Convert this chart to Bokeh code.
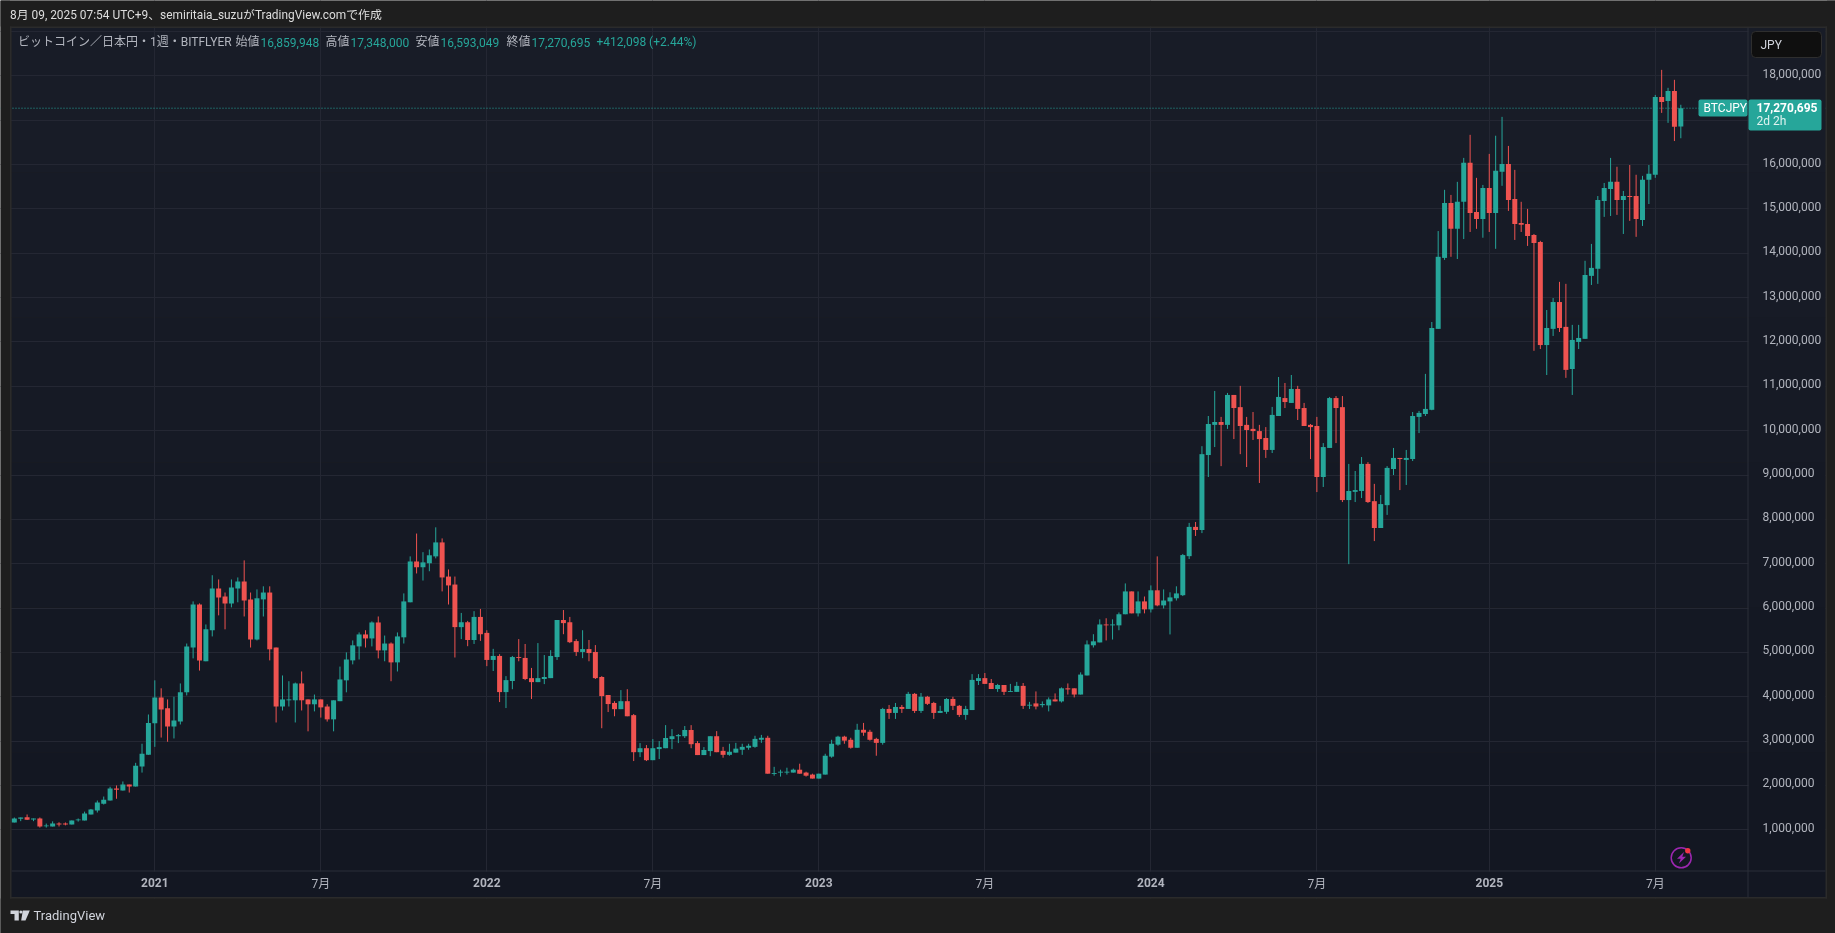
from bokeh.plotting import figure
from bokeh.models import (ColumnDataSource, Range1d, FixedTicker, Label, BoxAnnotation, Span,
                          PolyAnnotation, NumeralTickFormatter)
from bokeh.embed import file_html
from bokeh.resources import INLINE
import numpy as np

# Weekly BTC/JPY, millions of yen. Week index 0 is the first week of 2021.
week_first = -22
opens = [
 1.165,1.247,1.285,1.235,1.255,1.08,1.075,1.14,1.14,1.12,
 1.215,1.21,1.345,1.435,1.59,1.66,1.93,1.885,2.02,1.975,
 2.425,2.69,3.405,3.985,3.74,3.33,3.44,4.10,5.11,6.08,
 4.80,5.50,6.44,6.26,6.105,6.44,6.60,6.195,5.29,6.195,
 6.35,5.11,3.78,3.92,3.92,4.30,3.94,3.83,3.94,3.78,
 3.49,3.90,4.37,4.82,5.135,5.405,5.315,5.675,5.045,5.20,
 4.775,5.34,6.13,7.05,6.92,7.01,7.165,7.48,6.71,6.53,
 5.57,5.68,5.28,5.80,5.44,4.83,4.92,4.105,4.355,4.895,
 4.875,4.42,4.33,4.40,4.42,4.895,5.73,5.68,5.255,5.01,
 5.075,5.01,4.445,4.04,3.86,3.72,3.90,3.585,2.75,2.84,
 2.57,2.82,2.84,3.045,3.11,3.11,3.25,2.955,2.685,2.775,
 3.11,2.78,2.69,2.74,2.805,2.85,2.87,3.03,3.075,2.26,
 2.29,2.29,2.29,2.355,2.29,2.245,2.155,2.245,2.65,2.92,
 3.10,3.03,2.85,3.255,3.21,3.05,2.96,3.725,3.635,3.77,
 3.725,4.065,3.68,4.0,3.86,3.635,3.66,3.95,3.795,3.59,
 3.70,4.355,4.42,4.31,4.175,4.265,4.11,4.11,4.245,3.80,
 3.85,3.81,3.805,3.94,3.895,4.19,4.19,4.05,4.48,5.16,
 5.225,5.63,5.61,5.61,5.86,6.375,5.88,6.15,5.97,6.40,
 6.06,6.15,6.22,6.29,7.17,7.83,7.76,9.45,10.13,10.195,
 10.13,10.805,10.53,10.13,10.04,9.99,9.835,9.565,10.33,10.735,
 10.625,10.94,10.51,10.13,10.105,8.955,9.61,10.735,10.53,8.435,
 8.62,8.64,9.25,8.41,7.805,8.32,9.135,9.385,9.34,9.36,
 10.31,10.375,10.47,12.295,13.895,15.135,14.55,15.16,16.04,14.93,
 14.77,15.47,14.91,15.835,16.015,15.225,14.68,14.66,14.41,14.255,
 11.93,12.295,12.90,12.34,11.39,12.0,12.07,13.49,13.65,15.18,
 15.45,15.61,15.20,15.29,15.29,14.75,15.655,15.77,17.525,17.435,
 17.66,16.859948]
highs = [
 1.277,1.277,1.345,1.255,1.277,1.14,1.19,1.17,1.165,1.21,
 1.255,1.41,1.47,1.66,1.75,1.97,2.0,2.09,2.02,2.51,
 2.94,3.60,4.37,4.19,3.94,4.0,4.30,5.20,6.15,6.105,
 5.63,6.74,6.645,6.35,6.645,6.69,7.075,6.35,6.42,6.49,
 6.49,5.11,4.48,4.35,4.32,4.57,3.94,4.05,3.94,3.83,
 3.92,4.68,5.0,5.27,5.45,5.50,5.70,5.81,5.38,5.225,
 5.45,6.33,7.165,7.68,7.26,7.32,7.82,7.57,6.87,6.71,
 5.89,5.71,5.93,5.98,5.50,5.08,4.96,4.465,4.92,5.30,
 5.19,4.65,5.21,4.94,5.05,5.73,5.955,5.80,5.30,5.50,
 5.28,5.165,4.465,4.04,3.90,4.15,4.17,3.61,2.955,2.91,
 3.045,3.0,3.36,3.27,3.16,3.34,3.36,3.0,2.865,3.11,
 3.225,2.87,2.94,2.96,2.94,2.94,3.12,3.14,3.12,2.42,
 2.355,2.40,2.38,2.49,2.31,2.265,2.265,2.715,3.03,3.12,
 3.12,3.075,3.39,3.41,3.255,3.075,3.75,3.815,3.86,3.815,
 4.11,4.085,4.085,4.02,3.885,3.795,3.97,4.0,3.815,3.795,
 4.51,4.51,4.535,4.40,4.29,4.265,4.29,4.335,4.31,3.885,
 4.12,3.895,3.985,4.075,4.21,4.30,4.19,4.55,5.27,5.41,
 5.745,5.77,5.745,5.90,6.555,6.375,6.375,6.26,6.51,7.165,
 6.42,6.355,6.49,7.22,7.92,7.94,9.65,10.33,10.895,10.31,
 10.85,10.805,11.01,10.31,10.42,10.13,10.08,10.535,11.21,11.075,
 11.255,11.01,10.625,10.15,10.31,9.72,10.76,10.78,10.78,9.25,
 9.09,9.405,9.29,8.80,8.55,9.20,9.61,9.385,9.565,10.42,
 10.445,11.28,12.45,14.50,15.43,15.315,15.61,16.15,16.67,15.70,
 15.54,16.24,16.65,17.075,16.42,15.88,15.16,15.0,14.435,14.28,
 12.72,12.99,13.355,13.31,12.385,12.385,13.83,14.21,15.29,15.585,
 16.15,15.95,15.405,15.99,15.77,15.745,15.99,17.57,18.135,17.73,
 17.91,17.348]
lows = [
 1.165,1.195,1.22,1.195,1.05,1.05,1.075,1.075,1.10,1.12,
 1.185,1.21,1.345,1.39,1.57,1.66,1.70,1.885,1.84,1.975,
 2.29,2.69,2.87,3.08,2.985,3.06,3.375,4.03,4.865,4.59,
 4.80,5.36,5.835,5.52,6.015,6.13,5.81,5.11,5.27,5.81,
 4.82,3.42,3.69,3.78,3.42,3.69,3.22,3.67,3.53,3.44,
 3.22,3.90,4.10,4.73,4.84,5.11,5.135,4.865,4.80,4.35,
 4.57,5.20,6.13,6.78,6.62,6.83,7.12,6.375,6.08,4.885,
 5.30,5.14,5.19,5.26,4.69,4.58,3.88,3.745,4.17,4.80,
 4.375,3.95,4.33,4.285,4.42,4.83,5.41,5.21,4.92,4.87,
 4.80,4.40,3.29,3.655,3.56,3.72,3.56,2.55,2.64,2.55,
 2.57,2.595,2.84,2.82,2.955,3.07,2.84,2.685,2.685,2.66,
 2.75,2.625,2.67,2.74,2.69,2.805,2.85,2.96,2.265,2.22,
 2.20,2.245,2.29,2.265,2.20,2.155,2.155,2.245,2.625,2.895,
 2.94,2.83,2.85,3.12,3.01,2.67,2.92,3.50,3.50,3.635,
 3.725,3.635,3.635,3.815,3.50,3.635,3.615,3.70,3.545,3.48,
 3.70,4.265,4.29,4.175,4.11,4.04,4.11,4.11,3.725,3.725,
 3.715,3.76,3.67,3.895,3.87,4.05,3.985,4.05,4.48,5.11,
 5.225,5.27,5.29,5.50,5.86,5.88,5.81,5.88,5.90,6.04,
 5.99,5.405,6.17,6.27,7.105,7.625,7.69,8.955,9.63,9.20,
 10.04,9.81,9.47,9.18,9.79,8.82,9.385,9.495,10.33,10.51,
 10.625,10.24,10.105,9.36,8.615,8.73,9.61,9.72,8.39,6.99,
 8.39,8.48,8.37,7.51,7.805,8.10,9.0,8.66,8.775,9.315,
 9.945,10.33,10.46,12.295,13.85,13.92,13.87,14.32,14.48,14.55,
 14.35,14.48,14.10,15.52,14.955,14.30,14.48,14.165,11.80,11.84,
 11.255,12.135,12.225,11.19,10.805,11.84,12.07,13.285,13.31,14.82,
 14.84,14.865,14.435,14.73,14.37,14.615,15.11,15.70,17.165,16.94,
 16.53,16.593049]
closes = [
 1.255,1.277,1.225,1.255,1.075,1.095,1.14,1.12,1.12,1.21,
 1.23,1.365,1.455,1.615,1.68,1.93,1.905,2.02,1.975,2.445,
 2.715,3.41,3.985,3.715,3.33,3.465,4.10,5.135,6.08,4.82,
 5.52,6.44,6.24,6.105,6.465,6.60,6.17,5.29,6.22,6.35,
 5.07,3.78,3.94,3.94,4.30,3.92,3.83,3.94,3.76,3.49,
 3.92,4.39,4.84,5.16,5.405,5.315,5.675,5.045,5.20,4.775,
 5.36,6.15,7.05,6.92,7.03,7.19,7.48,6.69,6.51,5.57,
 5.68,5.28,5.80,5.41,4.83,4.92,4.105,4.375,4.895,4.875,
 4.40,4.33,4.42,4.445,4.92,5.73,5.66,5.23,5.01,5.075,
 4.985,4.42,4.015,3.835,3.72,3.90,3.56,2.75,2.84,2.57,
 2.84,2.865,3.07,3.11,3.135,3.25,2.93,2.685,2.80,3.11,
 2.75,2.69,2.76,2.83,2.87,2.895,3.05,3.075,2.265,2.28,
 2.31,2.31,2.355,2.265,2.22,2.155,2.265,2.67,2.94,3.10,
 3.01,2.85,3.255,3.19,3.03,2.96,3.725,3.635,3.77,3.725,
 4.065,3.68,4.0,3.84,3.635,3.68,3.95,3.795,3.59,3.725,
 4.38,4.42,4.29,4.175,4.265,4.11,4.13,4.245,3.795,3.82,
 3.78,3.835,3.94,3.895,4.19,4.165,4.05,4.50,5.18,5.25,
 5.63,5.61,5.63,5.86,6.375,5.88,6.15,5.97,6.40,6.06,
 6.17,6.24,6.33,7.195,7.83,7.76,9.47,10.15,10.195,10.13,
 10.805,10.51,10.105,10.015,9.99,9.81,9.565,10.355,10.76,10.645,
 10.94,10.49,10.105,10.08,8.955,9.63,10.735,10.51,8.435,8.64,
 8.66,9.25,8.39,7.805,8.345,9.16,9.385,9.36,9.385,10.33,
 10.40,10.49,12.315,13.92,15.135,14.55,15.16,16.04,14.91,14.77,
 15.47,14.91,15.86,16.015,15.20,14.66,14.64,14.39,14.23,11.93,
 12.315,12.90,12.315,11.37,12.045,12.09,13.51,13.67,15.20,15.47,
 15.61,15.20,15.29,15.27,14.775,15.655,15.79,17.525,17.41,17.66,
 16.85,17.270695]

year_ticks = [0, 52, 104, 156, 209]
year_labels = ["2021", "2022", "2023", "2024", "2025"]
month_ticks = [26, 78, 130, 182, 235]
month_labels = ["7月", "7月", "7月", "7月", "7月"]
price_ticks = [1,2,3,4,5,6,7,8,9,10,11,12,13,14,15,16,17,18]
price_labels = ["1,000,000","2,000,000","3,000,000","4,000,000","5,000,000","6,000,000",
                "7,000,000","8,000,000","9,000,000","10,000,000","11,000,000","12,000,000",
                "13,000,000","14,000,000","15,000,000","16,000,000","17,000,000","18,000,000"]
hidden_tick = 19

TEAL, RED = "#26a69a", "#ef5350"
OUTER = "#1e1e1e"
GRID = "#242733"
TXT = "#b2b5be"
DIV = "#2a2e39"
EDGE = "#2b2b2b"
JP = "Roboto, 'Noto Sans CJK JP'"
W, H = 1835, 933

# The frame fills the canvas; page pixels map to data with the chart's own scale.
PX_PER_WEEK = 6.385
PX_PER_YEN = 44.35 / 1e6
X = lambda sx: (sx - 154.3) / PX_PER_WEEK
Y = lambda sy: 1e6 + (829.3 - sy) / PX_PER_YEN

to_yen = lambda a: np.array(a) * 1e6
n = len(closes)
weeks = np.arange(week_first, week_first + n)
colors = [TEAL if c >= o else RED for o, c in zip(opens, closes)]
src = ColumnDataSource(dict(week=weeks, o=to_yen(opens), h=to_yen(highs), l=to_yen(lows), c=to_yen(closes),
                            top=np.maximum(to_yen(opens), to_yen(closes)),
                            bot=np.minimum(to_yen(opens), to_yen(closes)), color=colors))

p = figure(width=W, height=H, output_backend="svg", toolbar_location=None,
           x_range=Range1d(X(0), X(W)), y_range=Range1d(Y(H), Y(0)),
           y_axis_location="right", min_border=0, min_border_left=0, min_border_right=0,
           min_border_top=0, min_border_bottom=0, outline_line_color=None,
           border_fill_color=OUTER, background_fill_color=OUTER)
p.styles = {"position": "fixed", "left": "0", "top": "0"}


def rect(l, r, t, b, fill, level="glyph"):
    p.quad(left=[X(l)], right=[X(r)], top=[Y(t)], bottom=[Y(b)], fill_color=fill, line_color=None, level=level)


def tag(l, r, t, b, fill, line=None, radius=0):
    p.add_layout(BoxAnnotation(left=l, right=r, top=t, bottom=b, left_units="canvas", right_units="canvas",
                               top_units="canvas", bottom_units="canvas", fill_color=fill, fill_alpha=1,
                               line_color=line, line_alpha=1, line_width=1, border_radius=radius))


def label(x, y, text, color=TXT, size=12, font=JP, style="normal", align="left", x_units="canvas"):
    p.add_layout(Label(x=x, y=y, x_units=x_units, y_units="canvas", text=text, text_color=color,
                       text_font_size=f"{size}px", text_font=font, text_font_style=style,
                       text_align=align, text_baseline="middle"))


# panel with a slight vertical gradient, under the grid; the strips beside the plot area hide the grid
bands = 6
top_c, bot_c = np.array([24, 28, 39]), np.array([19, 23, 34])
band_col = []
for k in range(bands):
    y0 = 27 + (897 - 27) * k / bands
    y1 = 27 + (897 - 27) * (k + 1) / bands
    col = top_c + (bot_c - top_c) * k / (bands - 1)
    hexcol = "#%02x%02x%02x" % tuple(int(round(v)) for v in col)
    rect(11, 1825, y0, y1, hexcol, level="image")
    rect(1748, 1825, y0, y1, hexcol)
    band_col.append(hexcol)
rect(11, 1825, 871, 897, band_col[-1])
# outer surround, panel edge and axis dividers
rect(0, W, 0, 26, OUTER)
rect(0, W, 898, H, OUTER)
rect(0, 9.5, 0, H, OUTER)
rect(1826.5, W, 0, H, OUTER)
rect(9.5, 1826.5, 26, 27.5, EDGE)
rect(9.5, 1826.5, 896.5, 898, EDGE)
rect(9.5, 11, 26, 898, EDGE)
rect(1825, 1826.5, 26, 898, EDGE)
rect(11, 1825, 870, 871, DIV)
rect(1747, 1748, 27, 897, DIV)

# axes, fixed at the edges of the plot area
all_x = sorted(year_ticks + month_ticks)
x_over = {t: "" for t in year_ticks}
x_over.update(dict(zip(month_ticks, month_labels)))
xa = p.xaxis[0]
xa.fixed_location = Y(870)
xa.ticker = FixedTicker(ticks=all_x)
xa.major_label_overrides = x_over
xa.major_label_text_color = TXT
xa.major_label_text_font = JP
xa.major_label_text_font_size = "12px"
xa.major_label_standoff = 0
xa.axis_line_color = None
xa.major_tick_line_color = None
xa.minor_tick_line_color = None

# the source's price labels sit above their gridlines
nudge = int(2.5 / PX_PER_YEN)
ya = p.yaxis[0]
ya.fixed_location = X(1747)
y_pos = [int(t * 1e6) + nudge for t in price_ticks]
ya.ticker = FixedTicker(ticks=y_pos)
ya.major_label_overrides = dict(zip(y_pos, price_labels))
ya.formatter = NumeralTickFormatter(format="0,0")
ya.major_label_text_color = TXT
ya.major_label_text_font = "Roboto"
ya.major_label_text_font_size = "12px"
ya.major_label_standoff = 9
ya.axis_line_color = None
ya.major_tick_line_color = None
ya.minor_tick_line_color = None

p.xgrid.ticker = FixedTicker(ticks=all_x)
p.ygrid.ticker = FixedTicker(ticks=[t * 1e6 for t in price_ticks] + [hidden_tick * 1e6])
p.xgrid.grid_line_color = GRID
p.ygrid.grid_line_color = GRID

# last price line
p.add_layout(Span(location=closes[-1] * 1e6, dimension="width", line_color=TEAL,
                  line_dash="1 2", line_width=1, level="underlay"))

# candles
p.segment(x0="week", x1="week", y0="l", y1="h", color="color", line_width=1, source=src)
p.vbar(x="week", width=0.78, top="top", bottom="bot", fill_color="color", line_color=None, source=src)

# header and footer
label(9.5, 14.5, "8月 09, 2025 07:54 UTC+9、semiritaia_suzuがTradingView.comで作成", color="#dddddd", size=11.9)
label(33, 915, "TradingView", color="#d1d4dc", size=13, font="Roboto", style="normal")
logo = "#d1d4dc"
for xs, ys in [([10, 18.3, 18.3, 14, 14, 10], [910, 910, 920, 920, 913.5, 913.5]),
               ([22.3, 29.3, 25, 20.7], [910, 910, 920, 920])]:
    p.add_layout(PolyAnnotation(xs=xs, ys=ys, xs_units="canvas", ys_units="canvas",
                                fill_color=logo, fill_alpha=1, line_color=None))
p.scatter(x=[X(20.4)], y=[Y(911.5)], size=3.2, marker="circle", fill_color=logo, line_color=None)

# year labels, bold, on the axis
for t, s in zip(year_ticks, year_labels):
    label(t, 882, s, style="bold", align="center", x_units="data")

# legend row
y_leg = 41.5
label(17.5, y_leg, "ビットコイン／日本円・1週・BITFLYER", size=12)
legend_names = ["始値", "高値", "安値", "終値"]
legend_values = ["16,859,948", "17,348,000", "16,593,049", "17,270,695"]
for xn, xv, name, val in zip([235, 325, 415, 506], [260, 350, 440, 531], legend_names, legend_values):
    label(xn, y_leg, name, size=12)
    label(xv, y_leg, val, color=TEAL, size=12)
label(596, y_leg, "+412,098 (+2.44%)", color=TEAL, size=12)

# JPY button
tag(1751, 1821, 31, 57, "#0f0f0f", line="#2e2e2e", radius=4)
label(1760, 44, "JPY", color="#d1d4dc", size=12, font="Roboto")

# price tags
tag(1698, 1747, 99, 116, TEAL, radius=2)
label(1703, 107, "BTCJPY", color="#ffffff", size=12, font="Roboto", style="normal")
tag(1748, 1821, 99, 130, TEAL, radius=2)
label(1756, 106.5, "17,270,695", color="#ffffff", size=12, font="Roboto", style="bold")
label(1756, 120, "2d 2h", color="#dff3f0", size=12, font="Roboto")

# alert icon
p.scatter(x=[X(1680.7)], y=[Y(857.3)], size=20, marker="circle", fill_color=None, line_color="#9c27b0", line_width=1.5)
p.add_layout(PolyAnnotation(xs=[1683.5, 1676.5, 1680.2, 1678.5, 1685.5, 1681.8],
                            ys=[851.5, 858.2, 858.2, 863, 856.3, 856.3],
                            xs_units="canvas", ys_units="canvas",
                            fill_color="#9c27b0", fill_alpha=1, line_color=None))
p.scatter(x=[X(1687.3)], y=[Y(850.3)], size=5.4, marker="circle", fill_color="#f23645", line_color=None)

open("out.html", "w").write(file_html(p, INLINE))
